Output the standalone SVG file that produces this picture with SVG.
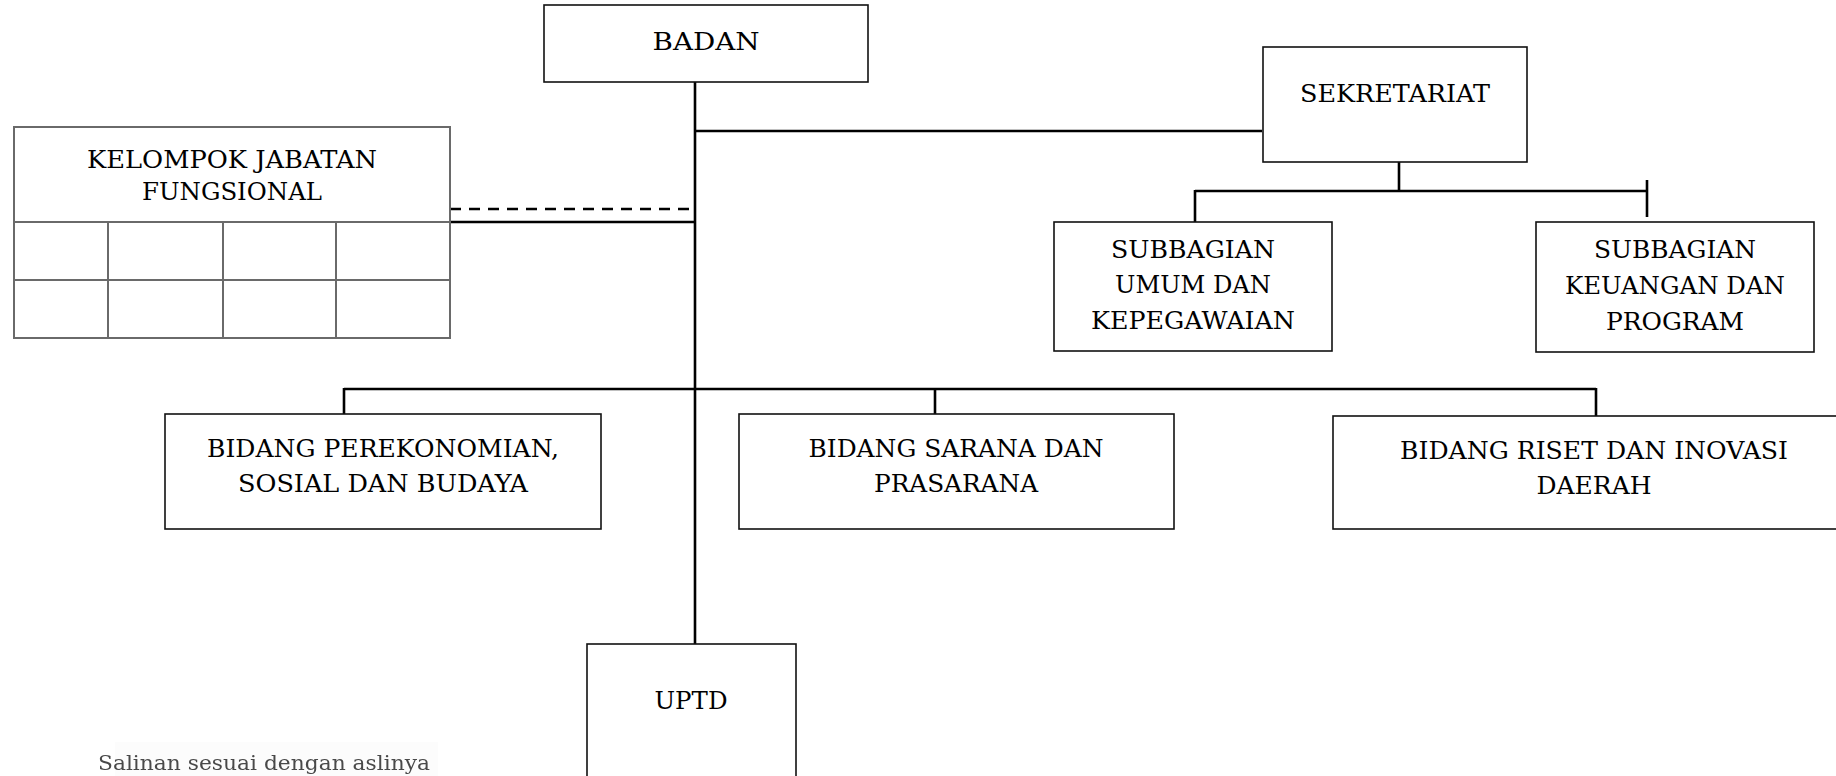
<svg xmlns="http://www.w3.org/2000/svg" width="1836" height="776" viewBox="0 0 1836 776">
  <style>
    .box { fill: #fff; stroke: #111; stroke-width: 1.6; }
    .grid { fill: none; stroke: #6a6a6a; stroke-width: 2; }
    .lbl { font-family: "DejaVu Serif", "Liberation Serif", serif; font-size: 25px; fill: #000; text-anchor: middle; }
    .line { fill: none; stroke: #000; stroke-width: 2.6; }
    .dash { stroke-dasharray: 11 8; }
    .stamp { font-family: "DejaVu Serif", "Liberation Serif", serif; font-size: 20px; fill: #4a4a4a; }
  </style>
  <defs>
    <filter id="soft" x="-5%" y="-50%" width="110%" height="200%">
      <feGaussianBlur stdDeviation="0.7"/>
    </filter>
  </defs>
  <rect width="1836" height="776" fill="#fff"/>

  <!-- connectors -->
  <g id="connectors">
    <line class="line" x1="695" y1="82" x2="695" y2="644"/>
    <line class="line" x1="695" y1="131" x2="1262" y2="131"/>
    <line class="line" x1="1399" y1="162" x2="1399" y2="191"/>
    <line class="line" x1="1195" y1="191" x2="1647" y2="191"/>
    <line class="line" x1="1195" y1="190" x2="1195" y2="222"/>
    <line class="line" x1="1647" y1="180" x2="1647" y2="217"/>
    <line class="line dash" x1="450" y1="209" x2="695" y2="209"/>
    <line class="line" x1="450" y1="222" x2="695" y2="222"/>
    <line class="line" x1="344" y1="389" x2="1596" y2="389"/>
    <line class="line" x1="344" y1="388" x2="344" y2="414"/>
    <line class="line" x1="935" y1="389" x2="935" y2="414"/>
    <line class="line" x1="1596" y1="388" x2="1596" y2="417"/>
  </g>

  <g id="badan">
    <rect class="box" x="544" y="5" width="324" height="77"/>
    <text class="lbl" x="706" y="50" textLength="107" lengthAdjust="spacingAndGlyphs">BADAN</text>
  </g>

  <g id="sekretariat">
    <rect class="box" x="1263" y="47" width="264" height="115"/>
    <text class="lbl" x="1395" y="102" textLength="190" lengthAdjust="spacingAndGlyphs">SEKRETARIAT</text>
  </g>

  <g id="kelompok-jabatan-fungsional">
    <rect class="grid" x="14" y="127" width="436" height="211"/>
    <line class="grid" x1="14" y1="222" x2="450" y2="222"/>
    <line class="grid" x1="14" y1="280" x2="450" y2="280"/>
    <line class="grid" x1="108" y1="222" x2="108" y2="338"/>
    <line class="grid" x1="223" y1="222" x2="223" y2="338"/>
    <line class="grid" x1="336" y1="222" x2="336" y2="338"/>
    <text class="lbl" x="232" y="168" textLength="290" lengthAdjust="spacingAndGlyphs">KELOMPOK JABATAN</text>
    <text class="lbl" x="232" y="200" textLength="180" lengthAdjust="spacingAndGlyphs">FUNGSIONAL</text>
  </g>

  <g id="subbagian-umum">
    <rect class="box" x="1054" y="222" width="278" height="129"/>
    <text class="lbl" x="1193" y="258" textLength="164" lengthAdjust="spacingAndGlyphs">SUBBAGIAN</text>
    <text class="lbl" x="1193" y="293" textLength="156" lengthAdjust="spacingAndGlyphs">UMUM DAN</text>
    <text class="lbl" x="1193" y="329" textLength="204" lengthAdjust="spacingAndGlyphs">KEPEGAWAIAN</text>
  </g>

  <g id="subbagian-keuangan">
    <rect class="box" x="1536" y="222" width="278" height="130"/>
    <text class="lbl" x="1675" y="258" textLength="162" lengthAdjust="spacingAndGlyphs">SUBBAGIAN</text>
    <text class="lbl" x="1675" y="294" textLength="220" lengthAdjust="spacingAndGlyphs">KEUANGAN DAN</text>
    <text class="lbl" x="1675" y="330" textLength="138" lengthAdjust="spacingAndGlyphs">PROGRAM</text>
  </g>

  <g id="bidang-perekonomian">
    <rect class="box" x="165" y="414" width="436" height="115"/>
    <text class="lbl" x="383" y="457" textLength="352" lengthAdjust="spacingAndGlyphs">BIDANG PEREKONOMIAN,</text>
    <text class="lbl" x="383" y="492" textLength="290" lengthAdjust="spacingAndGlyphs">SOSIAL DAN BUDAYA</text>
  </g>

  <g id="bidang-sarana">
    <rect class="box" x="739" y="414" width="435" height="115"/>
    <text class="lbl" x="956" y="457" textLength="295" lengthAdjust="spacingAndGlyphs">BIDANG SARANA DAN</text>
    <text class="lbl" x="956" y="492" textLength="164" lengthAdjust="spacingAndGlyphs">PRASARANA</text>
  </g>

  <g id="bidang-riset">
    <rect class="box" x="1333" y="416" width="530" height="113"/>
    <text class="lbl" x="1594" y="459" textLength="388" lengthAdjust="spacingAndGlyphs">BIDANG RISET DAN INOVASI</text>
    <text class="lbl" x="1594" y="494" textLength="115" lengthAdjust="spacingAndGlyphs">DAERAH</text>
  </g>

  <g id="uptd">
    <rect class="box" x="587" y="644" width="209" height="150"/>
    <text class="lbl" x="691" y="709" textLength="73" lengthAdjust="spacingAndGlyphs">UPTD</text>
  </g>

  <!-- certification stamp text at the foot of the page -->
  <g id="stamp" filter="url(#soft)">
    <rect x="115" y="742" width="323" height="40" fill="#fcfcfc"/>
    <text class="stamp" x="98" y="770" textLength="332" lengthAdjust="spacingAndGlyphs">Salinan sesuai dengan aslinya</text>
  </g>
</svg>
